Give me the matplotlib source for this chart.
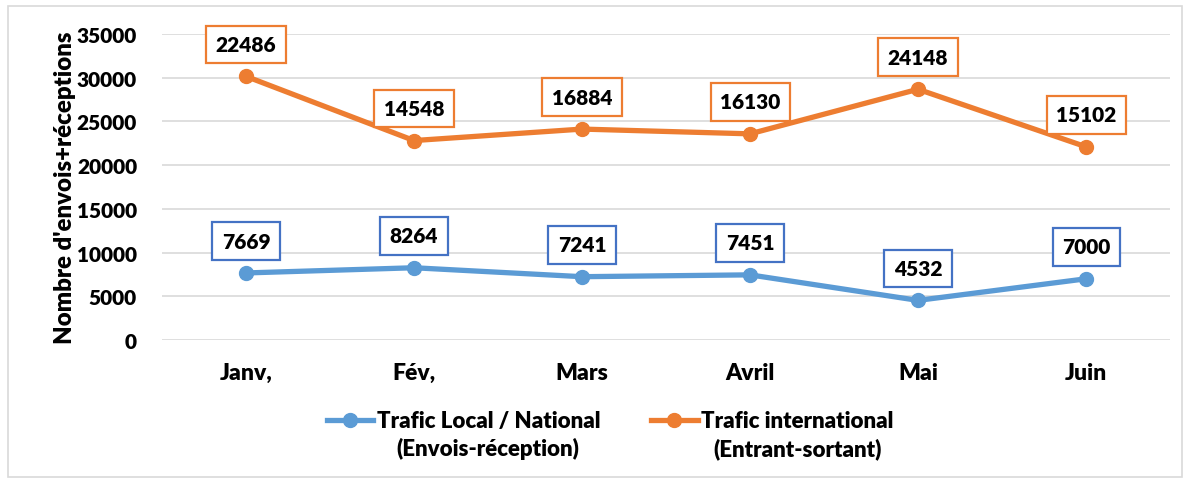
import numpy as np
import matplotlib.pyplot as plt
from matplotlib.patches import Rectangle

# Data
mois = ['Janv,', 'Fév,', 'Mars', 'Avril', 'Mai', 'Juin']
trafic_local = np.array([7669, 8264, 7241, 7451, 4532, 7000])
trafic_inter = np.array([22486, 14548, 16884, 16130, 24148, 15102])
noms = ['Trafic Local / National', 'Trafic international']
sous_noms = ['(Envois-réception)', '(Entrant-sortant)']

bleu = '#5B9BD5'
orange = '#ED7D31'
poids = 'heavy'

plt.rcParams['font.family'] = ['Lato', 'DejaVu Sans']

fig = plt.figure(figsize=(11.91, 4.85), dpi=100)
# outer frame like the Excel chart area
fig.patches.append(Rectangle((8 / 1191, 7 / 485), 1174 / 1191, 471 / 485,
                             transform=fig.transFigure, fill=False,
                             edgecolor='#D9D9D9', linewidth=1.2))

ax = fig.add_axes([162 / 1191, 1 - 341 / 485, 1008 / 1191, 306 / 485])
x = np.arange(len(mois))

# stacked lines: international drawn on top of local
cumul = trafic_local + trafic_inter
ax.plot(x, trafic_local, color=bleu, lw=3.8, marker='o', ms=10, label=noms[0], zorder=3)
ax.plot(x, cumul, color=orange, lw=3.8, marker='o', ms=10, label=noms[1], zorder=3)

# data labels in boxes
for xi, yi, v in zip(x, trafic_local, trafic_local):
    ax.annotate(str(v), (xi, yi), xytext=(0, 23), textcoords='offset points',
                ha='center', va='center', fontsize=15, fontweight=poids,
                bbox=dict(boxstyle='square,pad=0.45', fc='white', ec='#4472C4', lw=1.6))
for xi, yi, v in zip(x, cumul, trafic_inter):
    ax.annotate(str(v), (xi, yi), xytext=(0, 23), textcoords='offset points',
                ha='center', va='center', fontsize=15, fontweight=poids,
                bbox=dict(boxstyle='square,pad=0.45', fc='white', ec=orange, lw=1.6))

ax.set_xlim(-0.5, 5.5)
ax.set_ylim(0, 35000)
ax.set_yticks(np.arange(0, 35001, 5000))
ax.set_xticks(x)
ax.set_xticklabels(mois, fontsize=16.5, fontweight=poids)
for t in ax.get_yticklabels():
    t.set_fontsize(15)
    t.set_fontweight(poids)
ax.tick_params(axis='both', length=0, colors='black')
ax.tick_params(axis='y', pad=18)
ax.tick_params(axis='x', pad=16)
for s in ax.spines.values():
    s.set_visible(False)
ax.grid(axis='y', color='#D9D9D9', lw=1.2)
ax.set_axisbelow(True)
ax.set_ylabel("Nombre d'envois+réceptions", fontsize=17.3, fontweight=poids)
ax.yaxis.set_label_coords(-86 / 1008, 0.5)

leg = fig.legend(loc='center', bbox_to_anchor=(610 / 1191, 1 - 422 / 485), ncol=2,
                 frameon=False, prop={'size': 16, 'weight': poids},
                 handlelength=2.1, handletextpad=0.15, columnspacing=2.3)

# second line of each legend entry, centred under the first line
fig.canvas.draw()
inv = fig.transFigure.inverted()
for t, sous in zip(leg.get_texts(), sous_noms):
    bb = t.get_window_extent().transformed(inv)
    fig.text((bb.x0 + bb.x1) / 2, bb.y0 - 0.012, sous, ha='center', va='top',
             fontsize=16, fontweight=poids)

fig.savefig('out.png', dpi=100)
